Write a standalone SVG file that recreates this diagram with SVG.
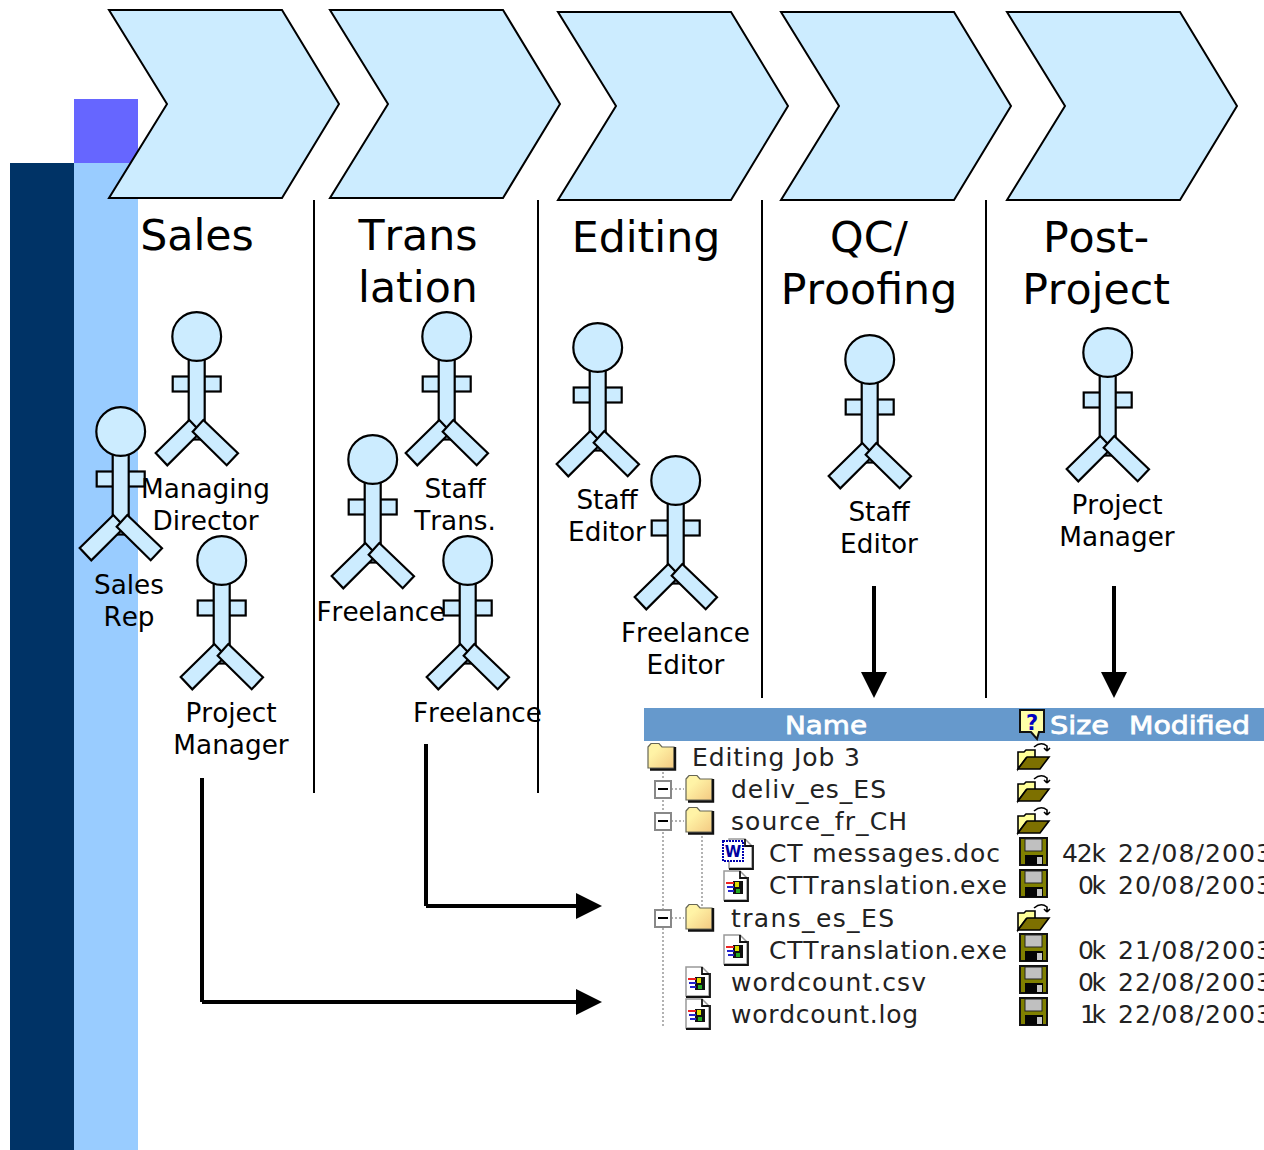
<svg xmlns="http://www.w3.org/2000/svg" width="1264" height="1150" viewBox="0 0 1264 1150">
<style>
text{font-kerning:none}
.s{fill:#ccecff;stroke:#000;stroke-width:2.2;stroke-linejoin:miter}
.h{font-family:"DejaVu Sans",sans-serif;font-size:42.7px;text-anchor:middle;fill:#000}
.l{font-family:"DejaVu Sans",sans-serif;font-size:26.3px;text-anchor:middle;fill:#000}
.f{font-family:"DejaVu Sans",sans-serif;font-size:25px;fill:#222}
.t{font-family:"DejaVu Sans",sans-serif;font-size:25px;fill:#fff;stroke:#fff;stroke-width:.8}
.v{fill:none;stroke:#000;stroke-width:2}
.c{fill:none;stroke:#000;stroke-width:4}
.d{fill:none;stroke:#999;stroke-width:1.5;stroke-dasharray:2 2}
</style>
<defs>
<linearGradient id="fold" x1="0" y1="0" x2="1" y2="1"><stop offset=".3" stop-color="#fff3a6"/><stop offset="1" stop-color="#f3c982"/></linearGradient>
<g id="actor">
<rect class="s" x="-24" y="40" width="48" height="15"/>
<rect class="s" x="-8" y="22" width="16" height="81"/>
<polygon class="s" points="-7.4,83.5 -41,116.5 -29.4,128.8 4,95.5"/>
<polygon class="s" points="6.6,83.5 41.3,116.8 30,128.8 -4,95.2"/>
<circle class="s" cx="0" cy="0" r="24.4"/>
</g>
<g id="closed">
<path d="M1,5 L4,1.5 H12 L15,5 H27 V26 H1 Z" fill="url(#fold)" stroke="#665" stroke-width="1.2"/>
<path d="M28,5 V27.5 H3" fill="none" stroke="#111" stroke-width="2.4"/>
</g>
<g id="open">
<path d="M1,10 H7 L9,8 H18 V16 H9 L1,27 Z" fill="#ffff99" stroke="#000" stroke-width="1.6"/>
<path d="M1,27 L10,15 H32 L23,27 Z" fill="#7d7000" stroke="#000" stroke-width="1.6"/>
<path d="M17,5 Q24,-1 30,4 V9 M30,9 L27,6 M30,9 L33,6" fill="none" stroke="#000" stroke-width="1.6"/>
</g>
<g id="disk">
<rect x="2" y="2" width="27" height="27" fill="#808000" stroke="#111" stroke-width="2"/>
<rect x="7" y="3" width="17" height="12" fill="#c0c0c0" stroke="#222"/>
<rect x="7" y="19" width="18" height="10" fill="#050505"/>
<rect x="19" y="21" width="5" height="7" fill="#c8c8c8"/>
</g>
<g id="file">
<path d="M1,1 H17 L24,8 V30 H1 Z" fill="#fff" stroke="#999" stroke-width="1.5"/>
<path d="M17,1 V8 H24 M25,7 V31 H1" fill="none" stroke="#111" stroke-width="1.8"/>
</g>
<g id="exe">
<use href="#file"/>
<rect x="10" y="11" width="10" height="13" fill="#111"/>
<rect x="3" y="12" width="8" height="2" fill="#e22"/>
<rect x="4" y="16" width="7" height="2" fill="#22c"/>
<rect x="5" y="20" width="6" height="2" fill="#22c"/>
<rect x="12" y="12" width="4" height="5" fill="#dd0"/>
<rect x="13" y="19" width="4" height="4" fill="#2a2"/>
</g>
</defs>

<g id="background">
<rect x="10" y="163" width="64" height="987" fill="#003366"/>
<rect x="74" y="163" width="64" height="987" fill="#99ccff"/>
<rect x="74" y="99" width="64" height="64" fill="#6666ff"/>
</g>

<g id="stage-sales"><polygon class="s" style="stroke-width:2" points="109,10 282,10 339,104 282,198 109,198 167,104"/><text class="h" x="197" y="250">Sales</text></g>
<g id="stage-translation"><polygon class="s" style="stroke-width:2" points="330,10 503,10 560,104 503,198 330,198 388,104"/><text class="h" x="418" y="250">Trans</text><text class="h" x="418" y="302">lation</text></g>
<g id="stage-editing"><polygon class="s" style="stroke-width:2" points="558,12 731,12 788,106 731,200 558,200 616,106"/><text class="h" x="646" y="252">Editing</text></g>
<g id="stage-qc"><polygon class="s" style="stroke-width:2" points="781,12 954,12 1011,106 954,200 781,200 839,106"/><text class="h" x="869" y="252">QC/</text><text class="h" x="869" y="304">Proofing</text></g>
<g id="stage-post"><polygon class="s" style="stroke-width:2" points="1007,12 1180,12 1237,106 1180,200 1007,200 1065,106"/><text class="h" x="1096" y="252">Post-</text><text class="h" x="1096" y="304">Project</text></g>

<g id="separators">
<path class="v" d="M314,200V793M538,200V793M762,200V698M986,200V698"/>
</g>

<g id="actor-managing-director"><use href="#actor" x="196.7" y="336.5"/></g>
<g id="actor-sales-rep"><use href="#actor" x="120.7" y="431.5"/><text class="l" x="129" y="594">Sales</text><text class="l" x="129" y="626">Rep</text></g>
<g id="label-managing-director"><text class="l" x="205.5" y="498">Managing</text><text class="l" x="205.5" y="530">Director</text></g>
<g id="actor-project-manager-1"><use href="#actor" x="221.7" y="560.5"/><text class="l" x="231" y="722">Project</text><text class="l" x="231" y="754">Manager</text></g>
<g id="actor-staff-trans"><use href="#actor" x="446.7" y="336.5"/><text class="l" x="455" y="498">Staff</text><text class="l" x="455" y="530">Trans.</text></g>
<g id="actor-freelance-1"><use href="#actor" x="372.7" y="459.5"/></g>
<g id="actor-freelance-2"><use href="#actor" x="467.7" y="560.5"/><text class="l" x="477.5" y="722">Freelance</text></g>
<g id="label-freelance-1"><text class="l" x="381" y="621">Freelance</text></g>
<g id="actor-staff-editor-1"><use href="#actor" x="597.7" y="347.5"/><text class="l" x="607" y="509">Staff</text><text class="l" x="607" y="541">Editor</text></g>
<g id="actor-freelance-editor"><use href="#actor" x="675.7" y="480.5"/><text class="l" x="685.5" y="642">Freelance</text><text class="l" x="685.5" y="674">Editor</text></g>
<g id="actor-staff-editor-2"><use href="#actor" x="869.7" y="359.5"/><text class="l" x="879" y="521">Staff</text><text class="l" x="879" y="553">Editor</text></g>
<g id="actor-project-manager-2"><use href="#actor" x="1107.7" y="352.5"/><text class="l" x="1117" y="514">Project</text><text class="l" x="1117" y="546">Manager</text></g>

<g id="file-listing">
<rect x="644" y="708" width="620" height="33" fill="#6699cc"/>
<text class="t" x="785" y="734" textLength="82" lengthAdjust="spacingAndGlyphs">Name</text>
<text class="t" x="1050" y="734" textLength="59" lengthAdjust="spacingAndGlyphs">Size</text>
<text class="t" x="1129" y="734" textLength="121" lengthAdjust="spacingAndGlyphs">Modified</text>
<path d="M1020,710 H1044 V732 H1039 L1037,739 L1031,732 H1020 Z" fill="#ffffa8" stroke="#111" stroke-width="2"/>
<text x="1032" y="730" font-family="DejaVu Sans, sans-serif" font-size="21" font-weight="bold" text-anchor="middle" fill="#0000c0">?</text>

<path class="d" d="M663,772V1028M702,836V926M663,789H684M663,821H684M663,918H684"/>
<g fill="#fff" stroke="#888" stroke-width="2"><rect x="655" y="781" width="16" height="17"/><rect x="655" y="813" width="16" height="17"/><rect x="655" y="910" width="16" height="17"/></g>
<path d="M658,789H668M658,821H668M658,918H668" stroke="#000" stroke-width="2"/>

<use href="#closed" x="647" y="742"/>
<use href="#closed" x="685" y="774"/>
<use href="#closed" x="685" y="806"/>
<use href="#closed" x="685" y="903"/>

<use href="#file" x="728" y="838"/>
<rect x="723" y="841" width="20" height="20" fill="#fff" stroke="#0000b0" stroke-width="2" stroke-dasharray="2 1"/>
<text x="733" y="857" font-family="DejaVu Sans, sans-serif" font-size="15" font-weight="bold" text-anchor="middle" fill="#0000a0">W</text>
<use href="#exe" x="723" y="870"/>
<use href="#exe" x="723" y="934"/>
<use href="#exe" x="685" y="966"/>
<use href="#exe" x="685" y="998"/>

<use href="#open" x="1017" y="742"/>
<use href="#open" x="1017" y="774"/>
<use href="#open" x="1017" y="806"/>
<use href="#open" x="1017" y="903"/>
<use href="#disk" x="1018" y="836"/>
<use href="#disk" x="1018" y="868"/>
<use href="#disk" x="1018" y="932"/>
<use href="#disk" x="1018" y="964"/>
<use href="#disk" x="1018" y="996"/>

<text class="f" x="692" y="766" textLength="168">Editing Job 3</text>
<text class="f" x="731" y="798" textLength="155">deliv_es_ES</text>
<text class="f" x="731" y="830" textLength="176">source_fr_CH</text>
<text class="f" x="769" y="862" textLength="231">CT messages.doc</text>
<text class="f" x="769" y="894" textLength="238">CTTranslation.exe</text>
<text class="f" x="731" y="927" textLength="163">trans_es_ES</text>
<text class="f" x="769" y="959" textLength="238">CTTranslation.exe</text>
<text class="f" x="731" y="991" textLength="195">wordcount.csv</text>
<text class="f" x="731" y="1023" textLength="187">wordcount.log</text>

<text class="f" x="1062" y="862" textLength="44">42k</text>
<text class="f" x="1078" y="894" textLength="28">0k</text>
<text class="f" x="1078" y="959" textLength="28">0k</text>
<text class="f" x="1078" y="991" textLength="28">0k</text>
<text class="f" x="1080" y="1023" textLength="26">1k</text>
<text class="f" x="1118" y="862" textLength="154">22/08/2003</text>
<text class="f" x="1118" y="894" textLength="154">20/08/2003</text>
<text class="f" x="1118" y="959" textLength="154">21/08/2003</text>
<text class="f" x="1118" y="991" textLength="154">22/08/2003</text>
<text class="f" x="1118" y="1023" textLength="154">22/08/2003</text>
</g>

<g id="connectors">
<path class="c" d="M874,586V674"/><polygon points="861,672 887,672 874,698"/>
<path class="c" d="M1114,586V674"/><polygon points="1101,672 1127,672 1114,698"/>
<path class="c" d="M426,744V906M426,906H578"/><polygon points="576,893 576,919 602,906"/>
<path class="c" d="M202,778V1002M202,1002H578"/><polygon points="576,989 576,1015 602,1002"/>
</g>
</svg>
